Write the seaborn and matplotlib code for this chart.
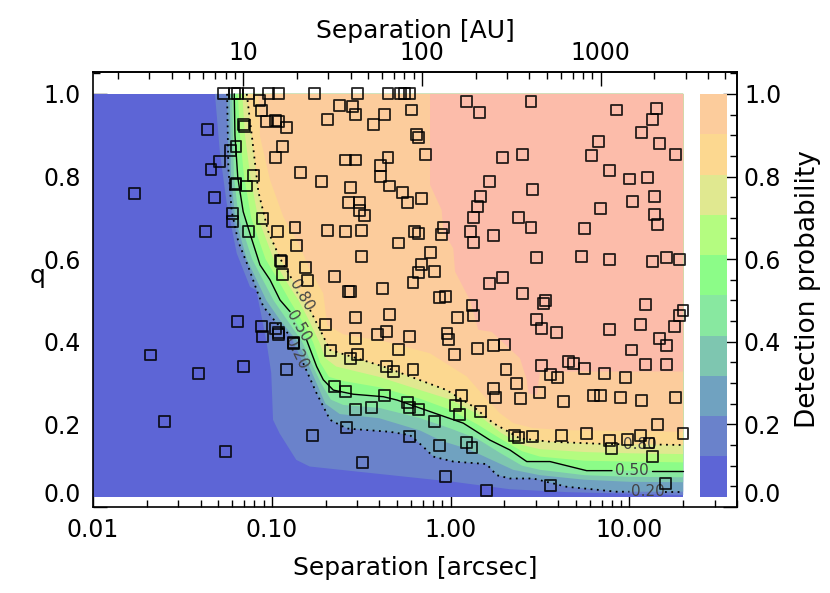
import numpy as np
import matplotlib
matplotlib.use("Agg")
import matplotlib.pyplot as plt
from matplotlib.cm import ScalarMappable
from matplotlib.colors import ListedColormap, BoundaryNorm
from matplotlib.ticker import LogLocator, MultipleLocator, NullFormatter
import seaborn as sns

sns.set_theme(style="ticks")
plt.rcParams["font.family"] = ["DejaVu Sans"]
plt.rcParams.update({
    "font.size": 17, "axes.labelsize": 18, "xtick.labelsize": 17, "ytick.labelsize": 17,
    "text.color": "black", "axes.labelcolor": "black",
    "xtick.color": "black", "ytick.color": "black",
})

DIST_PC = 145.0  # arcsec -> AU

# detection probability levels and band colours (last one = probability 1)
levels = [0.0, 0.1, 0.2, 0.3, 0.4, 0.5, 0.6, 0.7, 0.8, 0.9, 1.0]
band_colors = ["#5d65d6", "#6a82cb", "#70a2c0", "#7ec6b0", "#88e8a0", "#8cfc88",
               "#b4fc80", "#e0e890", "#fcd890", "#fccc9c", "#fcbcaa"]

# extent of the probability map (log10 arcsec, q)
map_lsep = [-2.0, 1.301]
map_q = [0.025, 1.0]

# level boundaries: log10(sep [arcsec]) and q
b10_lsep = [-1.318, -1.29, -1.252, -1.196, -1.122, -1.087, -1.031, -1.003, -0.993, -0.956,
            -0.863, -0.788, -0.507, -0.246, 0.015, 0.332, 0.649, 1.301]
b10_q = [1.0, 0.857, 0.735, 0.614, 0.533, 0.525, 0.404, 0.324, 0.211, 0.178,
         0.114, 0.098, 0.085, 0.073, 0.061, 0.043, 0.036, 0.029]

b20_lsep = [-1.25, -1.243, -1.224, -1.187, -1.13, -1.08, -1.047, -0.973, -0.898, -0.824,
            -0.749, -0.674, -0.581, -0.339, -0.227, -0.153, -0.097, 0.015, 0.201, 0.258,
            0.332, 0.462, 0.649, 0.929, 1.0, 1.2, 1.301]
b20_q = [1.0, 0.82, 0.715, 0.642, 0.58, 0.52, 0.485, 0.445, 0.416, 0.348,
         0.275, 0.211, 0.19, 0.182, 0.174, 0.146, 0.122, 0.110, 0.104, 0.077,
         0.069, 0.069, 0.049, 0.037, 0.037, 0.037, 0.037]

b30_lsep = [-1.235, -1.228, -1.205, -1.14, -1.03, -0.95, -0.855, -0.80, -0.75, -0.70,
            -0.62, -0.40, -0.17, -0.05, 0.10, 0.25, 0.35, 0.50, 0.75, 1.0, 1.301]
b30_q = [1.0, 0.8, 0.7, 0.6, 0.5, 0.45, 0.40, 0.35, 0.30, 0.25,
         0.225, 0.215, 0.185, 0.16, 0.14, 0.11, 0.09, 0.077, 0.066, 0.061, 0.06]

b40_lsep = [-1.222, -1.212, -1.185, -1.11, -0.99, -0.91, -0.83, -0.78, -0.725, -0.67,
            -0.60, -0.40, -0.17, 0.0, 0.15, 0.28, 0.40, 0.50, 0.75, 1.0, 1.301]
b40_q = [1.0, 0.8, 0.7, 0.6, 0.5, 0.45, 0.40, 0.35, 0.30, 0.26,
         0.247, 0.24, 0.215, 0.19, 0.165, 0.13, 0.10, 0.09, 0.077, 0.073, 0.072]

b50_lsep = [-1.21, -1.206, -1.19, -1.16, -1.12, -1.066, -1.01, -0.954, -0.898, -0.805,
            -0.749, -0.712, -0.656, -0.544, -0.376, -0.30, -0.115, 0.071, 0.22, 0.332,
            0.426, 0.556, 0.761, 0.903, 1.127, 1.301]
b50_q = [1.0, 0.90, 0.797, 0.715, 0.659, 0.586, 0.55, 0.501, 0.473, 0.404,
         0.340, 0.308, 0.283, 0.273, 0.267, 0.259, 0.231, 0.203, 0.162, 0.138,
         0.110, 0.110, 0.088, 0.088, 0.088, 0.088]

b60_lsep = [-1.19, -1.178, -1.155, -1.115, -1.035, -0.965, -0.90, -0.83, -0.77, -0.73,
            -0.68, -0.60, -0.40, -0.17, 0.0, 0.15, 0.28, 0.40, 0.50, 0.75, 1.0, 1.301]
b60_q = [1.0, 0.9, 0.8, 0.7, 0.6, 0.55, 0.5, 0.45, 0.40, 0.35,
         0.315, 0.305, 0.29, 0.262, 0.235, 0.20, 0.165, 0.135, 0.122, 0.112, 0.110, 0.108]

b70_lsep = [-1.165, -1.15, -1.12, -1.077, -0.99, -0.925, -0.85, -0.79, -0.735, -0.70,
            -0.64, -0.40, -0.17, 0.0, 0.15, 0.28, 0.40, 0.50, 0.75, 1.0, 1.301]
b70_q = [1.0, 0.9, 0.8, 0.7, 0.6, 0.55, 0.5, 0.45, 0.40, 0.36,
         0.34, 0.315, 0.283, 0.26, 0.225, 0.18, 0.15, 0.140, 0.133, 0.130, 0.128]

b80_lsep = [-1.14, -1.112, -1.075, -1.02, -0.954, -0.88, -0.786, -0.73, -0.674, -0.525,
            -0.376, -0.171, -0.022, 0.127, 0.239, 0.276, 0.388, 0.556, 0.835, 0.95,
            1.17, 1.301]
b80_q = [1.0, 0.90, 0.763, 0.667, 0.602, 0.546, 0.477, 0.429, 0.38, 0.36,
         0.34, 0.307, 0.283, 0.243, 0.203, 0.194, 0.166, 0.158, 0.153, 0.152,
         0.151, 0.150]

b90_lsep = [-1.075, -1.066, -1.01, -0.936, -0.842, -0.786, -0.712, -0.69, -0.60, -0.358,
            -0.115, 0.09, 0.20, 0.276, 0.351, 0.462, 0.649, 1.301]
b90_q = [1.0, 0.897, 0.792, 0.703, 0.63, 0.574, 0.517, 0.44, 0.418, 0.40,
         0.372, 0.316, 0.262, 0.227, 0.203, 0.191, 0.186, 0.182]

b100_lsep = [-0.115, -0.115, -0.05, -0.04, 0.015, 0.025, 0.108, 0.155, 0.23, 0.388,
             0.426, 0.435, 0.483, 0.50, 1.301]
b100_q = [1.0, 0.78, 0.719, 0.666, 0.626, 0.570, 0.501, 0.429, 0.424, 0.36,
          0.308, 0.275, 0.271, 0.328, 0.328]

# observed companions: log10(sep [arcsec]) and mass ratio q
obj_lsep = [
    -1.27, -1.21, -1.19, -1.13, -1.02, -0.96, -0.76, -0.52, -0.35, -0.28,
    -0.26, -0.23, -1.07, -1.06, -0.62, -1.03, -0.98, -0.96, -0.92, -1.16,
    -1.155, -0.69, -1.36, -1.20, -1.23, -1.29, -1.34, -0.94, -0.98, -0.84,
    -0.72, -1.10, -1.20, -1.205, -1.14, -1.32, -1.22, -1.22, -1.37, -1.13,
    -1.05, -0.97, -0.87, -0.69, -0.86, -0.95, -0.945, -0.94, -0.81, -0.80,
    -0.65, -1.77,
    -0.55, -0.53, -0.43, -0.37, -0.22, -0.19, -0.18, -0.14,
    -0.59, -0.53, -0.35, -0.39, -0.39, -0.34, -0.27, -0.24, -0.16, -0.56,
    -0.57, -0.51, -0.51, -0.48, -0.59, -0.50, -0.20, -0.18, -0.05, -0.04,
    -0.29, -0.50, -0.11, -0.16, -0.18, -0.09, -0.21, -0.38, -0.57, -0.56,
    -0.06, -0.03,
    0.09, 0.16, 0.29, 0.22, 0.17, 0.15, 0.13, 0.11, 0.13, 0.24, 0.22, 0.29,
    0.45, 0.93, 1.15, 1.13, 1.07, 0.83, 1.17, 1.26, 0.40, 0.79,
    0.89, 1.00, 1.10, 1.14, 1.02, 0.46, 0.84, 0.38, 0.45, 0.75,
    1.14, 1.16, 0.48, 0.73, 0.89, 1.13, 1.21, 1.28, 0.40,
    -1.19, -1.06, -1.05, -0.98, -0.96, -0.96, -0.88, -0.88, -1.68, -1.41,
    -1.16, -0.92, -1.60, -1.26, -0.77, -0.70, -0.67,
    0.12, 0.13, 0.04, -0.53, -0.34, -0.36, -0.41, -0.53, -0.23, -0.02,
    -0.01, -0.29, 0.02, 0.15, 0.24, 0.30, -0.52, -0.56, -0.36, -0.32,
    -0.21, 0.31, 0.24, 0.25, -0.65, -0.59, -0.37, -0.24, -0.23, -0.18,
    0.06, 0.03, 0.05, 0.17, -0.53, -0.44, -0.09, -0.58, -0.23, -0.06,
    0.09, 0.12, -0.49, -0.03, 0.20,
    0.53, 0.52, 1.09, 1.30, 1.28, 1.25, 1.06, 0.89, 0.48, 0.51,
    0.59, 1.17, 1.21, 1.01, 0.51, 0.56, 0.60, 0.66, 0.69, 0.75,
    0.86, 0.98, 1.09, 1.21, 0.37, 0.50, 0.39, 0.63, 0.80, 0.84,
    0.95, 1.07, 1.26, 1.16, 1.30, 0.36, 0.38, 0.46, 0.62, 0.76,
    0.89, 0.90, 0.99, 1.06, 1.11, 1.13, 0.56, 1.20,
]
obj_q = [
    1.00, 1.00, 1.00, 1.00, 1.00, 1.00, 1.00, 1.00, 1.00, 1.00,
    1.00, 1.00, 0.983, 0.959, 0.972, 0.933, 0.935, 0.933, 0.918, 0.925,
    0.921, 0.939, 0.913, 0.872, 0.862, 0.837, 0.816, 0.872, 0.847, 0.809,
    0.788, 0.803, 0.782, 0.780, 0.777, 0.750, 0.711, 0.692, 0.667, 0.666,
    0.698, 0.668, 0.677, 0.669, 0.632, 0.596, 0.594, 0.562, 0.579, 0.549,
    0.559, 0.758,
    0.969, 0.950, 0.927, 0.949, 0.961, 0.902, 0.895, 0.853,
    0.840, 0.840, 0.847, 0.826, 0.801, 0.777, 0.761, 0.736, 0.747, 0.774,
    0.738, 0.738, 0.717, 0.705, 0.666, 0.669, 0.666, 0.661, 0.659, 0.676,
    0.639, 0.606, 0.615, 0.588, 0.568, 0.570, 0.544, 0.530, 0.521, 0.521,
    0.508, 0.510,
    0.982, 0.956, 0.847, 0.789, 0.752, 0.727, 0.700, 0.668, 0.641, 0.657, 0.542, 0.556,
    0.981, 0.961, 0.964, 0.939, 0.907, 0.885, 0.881, 0.854, 0.854, 0.851,
    0.814, 0.794, 0.797, 0.751, 0.739, 0.768, 0.723, 0.700, 0.676, 0.675,
    0.709, 0.684, 0.603, 0.606, 0.600, 0.594, 0.603, 0.598, 0.516,
    0.449, 0.437, 0.413, 0.431, 0.423, 0.418, 0.398, 0.395, 0.368, 0.324,
    0.341, 0.332, 0.208, 0.134, 0.173, 0.442, 0.378,
    0.487, 0.464, 0.459, 0.459, 0.467, 0.424, 0.417, 0.408, 0.412, 0.420,
    0.405, 0.381, 0.370, 0.384, 0.392, 0.394, 0.370, 0.359, 0.341, 0.328,
    0.333, 0.332, 0.286, 0.264, 0.292, 0.279, 0.269, 0.254, 0.240, 0.236,
    0.269, 0.245, 0.224, 0.231, 0.237, 0.240, 0.208, 0.192, 0.171, 0.148,
    0.157, 0.145, 0.107, 0.073, 0.040,
    0.500, 0.493, 0.491, 0.475, 0.464, 0.438, 0.442, 0.429, 0.453, 0.431,
    0.422, 0.408, 0.392, 0.380, 0.342, 0.321, 0.314, 0.352, 0.348, 0.336,
    0.324, 0.314, 0.344, 0.346, 0.298, 0.277, 0.263, 0.255, 0.270, 0.269,
    0.266, 0.258, 0.266, 0.200, 0.179, 0.173, 0.169, 0.170, 0.174, 0.177,
    0.161, 0.141, 0.164, 0.173, 0.155, 0.122, 0.052, 0.057,
]

q_ticks = [0.0, 0.2, 0.4, 0.6, 0.8, 1.0]
q_labels = ["0.0", "0.2", "0.4", "0.6", "0.8", "1.0"]
sep_ticks = [0.01, 0.1, 1.0, 10.0]
sep_labels = ["0.01", "0.10", "1.00", "10.00"]
au_ticks = [10, 100, 1000]
au_labels = ["10", "100", "1000"]

fig = plt.figure(figsize=(8.3, 5.93), dpi=100)
ax = fig.add_axes([93 / 830, 86 / 593, 644 / 830, 435 / 593])
ax.set_xscale("log")
ax.set_xlim(0.01, 40)
ax.set_ylim(0, 1.053)
ax.set_facecolor("white")

# filled probability bands
sep_lo, sep_hi = 10 ** map_lsep[0], 10 ** map_lsep[1]
ax.fill([sep_lo, sep_hi, sep_hi, sep_lo], [map_q[0], map_q[0], map_q[1], map_q[1]],
        color=band_colors[0], lw=0, zorder=1)
bounds = [(b10_lsep, b10_q), (b20_lsep, b20_q), (b30_lsep, b30_q), (b40_lsep, b40_q),
          (b50_lsep, b50_q), (b60_lsep, b60_q), (b70_lsep, b70_q), (b80_lsep, b80_q),
          (b90_lsep, b90_q), (b100_lsep, b100_q)]
for k, (bl, bq) in enumerate(bounds, start=1):
    xs = np.r_[10 ** np.asarray(bl), sep_hi]
    ys = np.r_[bq, map_q[1]]
    ax.fill(xs, ys, color=band_colors[k], lw=0, zorder=1)


def draw_contour(lsep, q, gaps, ls, lw):
    xs = 10 ** np.asarray(lsep, dtype=float)
    ys = np.asarray(q, dtype=float)
    cuts = [0] + [g + 1 for g in gaps] + [len(xs)]
    for a, b in zip(cuts[:-1], cuts[1:]):
        ax.plot(xs[a:b], ys[a:b], color="black", ls=ls, lw=lw, zorder=3)


dots = (0, (1, 2.5))
draw_contour(b20_lsep, b20_q, [8, 24], dots, 1.3)
draw_contour(b50_lsep, b50_q, [8, 23], "-", 1.0)
draw_contour(b80_lsep, b80_q, [5, 19], dots, 1.3)

# inline contour labels
for txt, ls_, qv, rot in [("0.80", -0.835, 0.513, -60), ("0.50", -0.852, 0.438, -60),
                          ("0.20", -0.862, 0.372, -64), ("0.80", 1.06, 0.151, 0),
                          ("0.50", 1.015, 0.088, 0), ("0.20", 1.104, 0.037, 0)]:
    ax.text(10 ** ls_, qv, txt, rotation=rot, ha="center", va="center",
            rotation_mode="anchor", fontsize=11, color="#444444", zorder=4)

# companions
sns.scatterplot(x=10 ** np.asarray(obj_lsep), y=obj_q, marker="s", s=62,
                facecolors="none", edgecolor="black", linewidth=1.3, alpha=0.85,
                ax=ax, zorder=5, legend=False)

# colour bar drawn inside the frame
cax = ax.inset_axes([0.9425, 0.0237, 0.0419, 0.9257])
cmap = ListedColormap(band_colors[:10])
norm = BoundaryNorm(levels, cmap.N)
cb = fig.colorbar(ScalarMappable(norm=norm, cmap=cmap), cax=cax, ticks=[])
cb.outline.set_visible(False)
cb.minorticks_off()
cax.tick_params(which="both", length=0)

# axes, ticks, labels
ax.set_xticks(sep_ticks, labels=sep_labels)
ax.xaxis.set_minor_locator(LogLocator(base=10, subs=np.arange(2, 10)))
ax.xaxis.set_minor_formatter(NullFormatter())
ax.set_yticks(q_ticks, labels=q_labels)
ax.yaxis.set_minor_locator(MultipleLocator(0.05))
ax.tick_params(which="both", direction="in", top=False, right=False, color="black")
ax.tick_params(which="major", length=10, width=1.0)
ax.tick_params(which="minor", length=5, width=1.0)
ax.tick_params(axis="x", pad=8)
ax.tick_params(axis="y", pad=9)
ax.set_xlabel("Separation [arcsec]", labelpad=10)
ax.set_ylabel("q", rotation=0, va="center", ha="center")
ax.yaxis.set_label_coords(-0.086, 0.53)

secx = ax.secondary_xaxis("top", functions=(lambda s: s * DIST_PC, lambda a: a / DIST_PC))
secx.set_xticks(au_ticks, labels=au_labels)
secx.xaxis.set_minor_locator(LogLocator(base=10, subs=np.arange(2, 10)))
secx.xaxis.set_minor_formatter(NullFormatter())
secx.tick_params(which="both", direction="in", pad=5)
secx.tick_params(which="major", length=10, width=1.0)
secx.tick_params(which="minor", length=5, width=1.0)
secx.set_xlabel("Separation [AU]", labelpad=2)

secy = ax.secondary_yaxis("right")
secy.set_yticks(q_ticks, labels=q_labels)
secy.yaxis.set_minor_locator(MultipleLocator(0.05))
secy.tick_params(which="both", direction="in", pad=5)
secy.tick_params(which="major", length=10, width=1.0)
secy.tick_params(which="minor", length=5, width=1.0)
secy.set_ylabel("Detection probability", fontsize=19, labelpad=10)

for axis in (ax.yaxis, secy.yaxis):
    first = axis.get_major_ticks()[0]
    first.label1.set_va("bottom")
    first.label2.set_va("bottom")

for sp in list(ax.spines.values()) + [secx.spines["top"], secy.spines["right"]]:
    sp.set_linewidth(1.2)
    sp.set_color("black")

fig.savefig("out.png", dpi=100)
